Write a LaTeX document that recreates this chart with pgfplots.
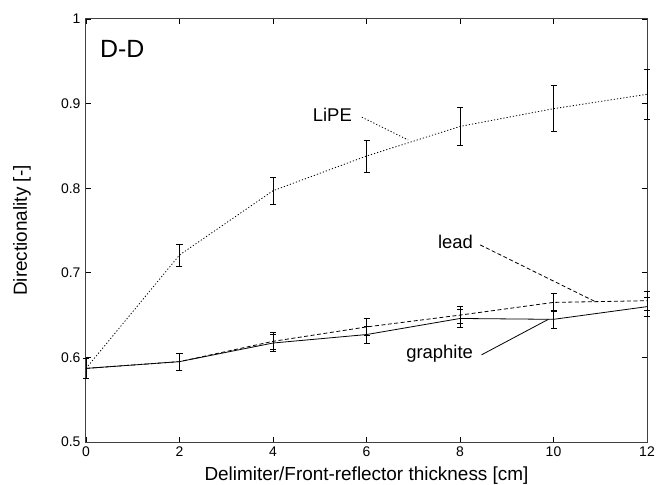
\documentclass[border=0pt]{standalone}
\usepackage{pgfplots}
\pgfplotsset{compat=1.18}
\usepackage{pgfplotstable}
\usepackage{fontspec}
\setmainfont{Liberation Sans}
\newcommand{\tf}{\fontsize{14}{16}\selectfont}
\pgfplotstableread{
x y e
0 0.587 0.012
2 0.721 0.013
4 0.797 0.016
6 0.838 0.019
8 0.873 0.022
10 0.894 0.027
12 0.911 0.030
}\lipe
\pgfplotstableread{
x y e
0 0.587 0.012
2 0.595 0.010
4 0.619 0.010
6 0.636 0.010
8 0.650 0.010
10 0.665 0.011
12 0.667 0.011
}\lead
\pgfplotstableread{
x y e
0 0.587 0.012
2 0.595 0.010
4 0.617 0.010
6 0.627 0.010
8 0.646 0.011
10 0.645 0.011
12 0.660 0.011
}\graphite
\begin{document}
\begin{tikzpicture}
\begin{axis}[
  scale only axis, width=561bp, height=423bp,
  xmin=0, xmax=12, ymin=0.5, ymax=1,
  xtick={0,2,...,12}, ytick={0.5,0.6,0.7,0.8,0.9,1},
  xticklabels={{\tf 0},{\tf 2},{\tf 4},{\tf 6},{\tf 8},{\tf 10},{\tf 12}},
  yticklabels={{\tf 0.5},{\tf 0.6},{\tf 0.7},{\tf 0.8},{\tf 0.9},{\tf 1}},
  tick align=inside, major tick length=5bp,
  axis line style={draw=black!75, line width=1bp},
  tick style={black, line width=0.7bp},
  xticklabel style={yshift=-1bp},
  yticklabel style={xshift=-2bp},
  xlabel={Delimiter/Front-reflector thickness [cm]},
  ylabel={Directionality [-]},
  label style={font=\fontsize{19}{21}\selectfont},
  xlabel style={at={(axis description cs:0.5,-0.092)}, anchor=base},
  ylabel style={at={(axis description cs:-0.114,0.5)}, anchor=center},
  clip=false,
  error bars/error bar style={solid, line width=0.8bp, black},
  error bars/error mark options={solid, rotate=90, mark size=3bp, line width=0.8bp, black},
]
\addplot[black, line width=0.8bp, dash pattern=on 1.2bp off 2bp, mark=none,
  error bars/.cd, y dir=both, y explicit]
  table[x=x, y=y, y error=e]{\lipe};
\addplot[black, line width=0.8bp, dash pattern=on 4bp off 2.5bp, mark=none,
  error bars/.cd, y dir=both, y explicit]
  table[x=x, y=y, y error=e]{\lead};
\addplot[black, line width=0.8bp, solid, mark=none,
  error bars/.cd, y dir=both, y explicit]
  table[x=x, y=y, y error=e]{\graphite};
\node[anchor=base west, font=\fontsize{25}{27}\selectfont, inner sep=0pt] at (axis cs:0.30,0.955) {D-D};
\node[anchor=base east, font=\fontsize{18.5}{20}\selectfont, inner sep=0pt] at (axis cs:5.69,0.879) {LiPE};
\node[anchor=base east, font=\fontsize{18.5}{20}\selectfont, inner sep=0pt] at (axis cs:8.28,0.729) {lead};
\node[anchor=base east, font=\fontsize{18.5}{20}\selectfont, inner sep=0pt] at (axis cs:8.28,0.599) {graphite};
\draw[black, line width=0.8bp, dash pattern=on 1.2bp off 2bp] (axis cs:5.90,0.884) -- (axis cs:6.89,0.857);
\draw[black, line width=0.8bp, dash pattern=on 4bp off 2.5bp] (axis cs:8.43,0.733) -- (axis cs:10.89,0.666);
\draw[black, line width=0.8bp] (axis cs:8.46,0.603) -- (axis cs:9.89,0.645);
\end{axis}
\pgfresetboundingbox
\path[use as bounding box] (current axis.south west) ++(-86bp,-43bp) rectangle ([shift={(10bp,19bp)}]current axis.north east);
\end{tikzpicture}
\end{document}
